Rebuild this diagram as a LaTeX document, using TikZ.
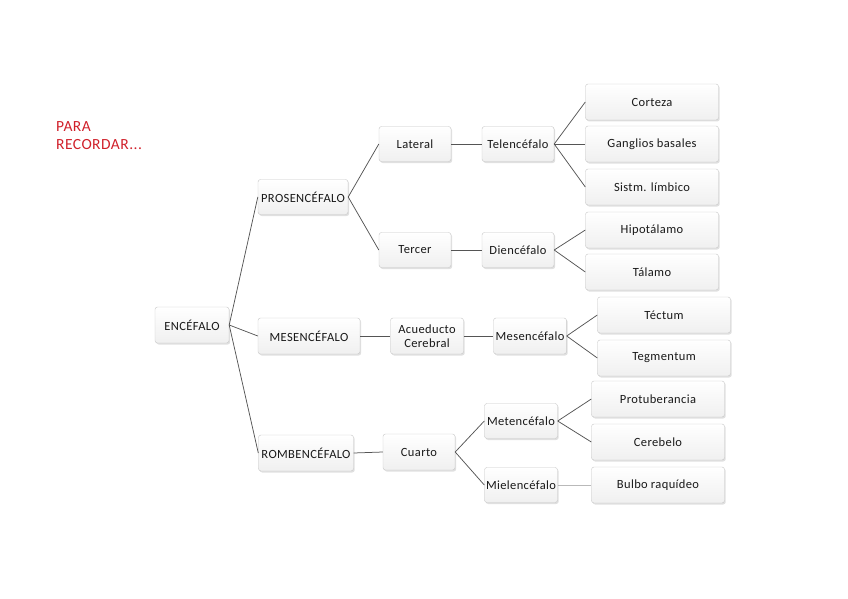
\documentclass[tikz,border=0pt]{standalone}
\usepackage{fontspec}
\setmainfont{Carlito}[LetterSpace=3]
\usetikzlibrary{shadows}
\definecolor{linec}{HTML}{555555}
\definecolor{redc}{HTML}{D0202A}
\tikzset{
  bx/.style={draw=gray!45, rounded corners=2.5pt, top color=white, bottom color=gray!12,
    drop shadow={shadow xshift=1.2pt, shadow yshift=-1.5pt, opacity=0.35, fill=gray!70},
    inner sep=1pt, align=center, text=black!90, font=\fontsize{12.5}{14}\selectfont},
  con/.style={draw=linec, line width=0.75pt},
  lcon/.style={draw=gray!55, line width=0.7pt}
}
\newcommand{\bxat}[6]{%
  \node[bx, minimum width=#4pt, minimum height=#5pt] (#1) at (#2,#3) {#6};}
\begin{document}
\begin{tikzpicture}[x=1pt,y=-1pt]
\useasboundingbox (0,0) rectangle (848,599);
\node[font=\fontsize{15.5}{18}\selectfont, text=redc, align=left, anchor=north west, inner sep=0pt] (para) at (56,121) {PARA\\RECORDAR...};
\bxat{enc}{192}{325}{74}{36}{ENCÉFALO}
\bxat{pro}{303}{197}{90}{35}{PROSENCÉFALO}
\bxat{mes}{309}{336}{102}{36}{MESENCÉFALO}
\bxat{rom}{306}{453}{95}{36}{ROMBENCÉFALO}
\bxat{lat}{415}{144}{72}{35}{Lateral}
\bxat{tel}{518}{144}{72}{35}{Telencéfalo}
\bxat{ter}{415}{250}{72}{35}{Tercer}
\bxat{die}{518}{250}{72}{35}{Diencéfalo}
\bxat{acu}{427}{336}{73}{36}{Acueducto\\Cerebral}
\bxat{mesc}{530}{336}{73}{36}{Mesencéfalo}
\bxat{cua}{419}{452}{72}{36}{Cuarto}
\bxat{met}{521}{421}{73}{35}{Metencéfalo}
\bxat{mie}{521}{485}{73}{35}{Mielencéfalo}
\bxat{cor}{652}{102}{133}{36}{Corteza}
\bxat{gan}{652}{144}{133}{36}{Ganglios basales}
\bxat{sis}{652}{187}{133}{36}{Sistm. límbico}
\bxat{hip}{652}{230}{133}{36}{Hipotálamo}
\bxat{tal}{652}{272}{133}{36}{Tálamo}
\bxat{tec}{664}{315}{133}{36}{Téctum}
\bxat{teg}{664}{358}{133}{36}{Tegmentum}
\bxat{prot}{658}{399}{133}{36}{Protuberancia}
\bxat{cer}{658}{442}{133}{36}{Cerebelo}
\bxat{bul}{658}{485}{133}{36}{Bulbo raquídeo}
% connectors
\draw[con] (enc.east) -- (pro.west);
\draw[con] (enc.east) -- (mes.west);
\draw[con] (enc.east) -- (rom.west);
\draw[con] (pro.east) -- (lat.west);
\draw[con] (pro.east) -- (ter.west);
\draw[con] (lat.east) -- (tel.west);
\draw[con] (ter.east) -- (die.west);
\draw[con] (tel.east) -- (cor.west);
\draw[con] (tel.east) -- (gan.west);
\draw[con] (tel.east) -- (sis.west);
\draw[con] (die.east) -- (hip.west);
\draw[con] (die.east) -- (tal.west);
\draw[con] (mes.east) -- (acu.west);
\draw[con] (acu.east) -- (mesc.west);
\draw[con] (mesc.east) -- (tec.west);
\draw[con] (mesc.east) -- (teg.west);
\draw[con] (rom.east) -- (cua.west);
\draw[con] (cua.east) -- (met.west);
\draw[con] (cua.east) -- (mie.west);
\draw[con] (met.east) -- (prot.west);
\draw[con] (met.east) -- (cer.west);
\draw[lcon] (mie.east) -- (bul.west);
\end{tikzpicture}
\end{document}
